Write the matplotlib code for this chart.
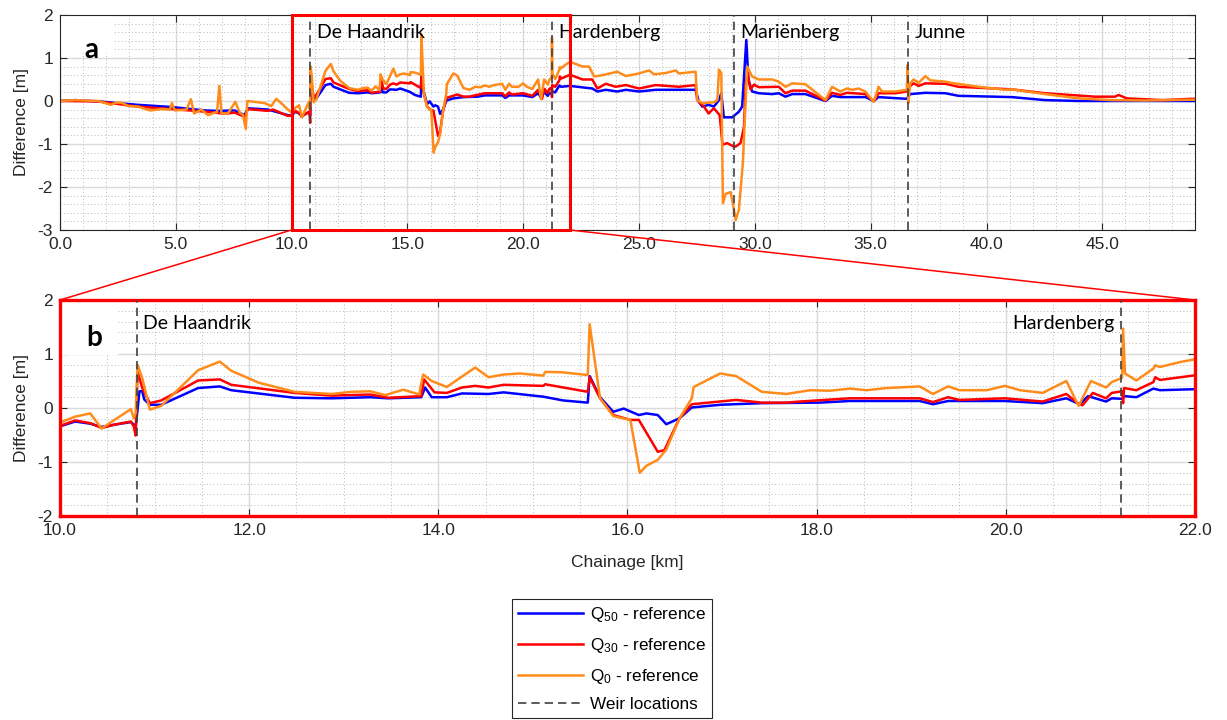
import matplotlib
matplotlib.use('Agg')
from matplotlib import pyplot as plt
from matplotlib.patches import Rectangle, ConnectionPatch
from matplotlib.lines import Line2D
from matplotlib.ticker import MultipleLocator, FormatStrFormatter

plt.rcParams['font.family'] = 'Liberation Sans'
plt.rcParams['axes.unicode_minus'] = False
plt.rcParams['mathtext.default'] = 'regular'

# chainage [km] / water level difference [m]
q50_km = [0.0, 0.65, 1.64, 3.37, 4.81, 6.24, 6.82, 7.54, 7.97, 8.11, 8.98, 9.84,
          10.0, 10.16, 10.32, 10.44, 10.57, 10.75, 10.8, 10.82, 10.84, 10.87, 10.89, 10.95,
          11.07, 11.46, 11.69, 11.81, 12.48, 12.87, 13.28, 13.47, 13.82, 13.86, 13.93, 14.09,
          14.25, 14.53, 14.69, 15.11, 15.32, 15.58, 15.6, 15.71, 15.85, 15.96, 16.12, 16.2,
          16.32, 16.41, 16.55, 16.68, 16.98, 17.42, 18.03, 18.35, 19.09, 19.23, 19.39, 19.99,
          20.39, 20.64, 20.78, 20.87, 21.06, 21.12, 21.23, 21.26, 21.38, 21.56, 21.63, 22.02,
          22.98, 23.2, 23.56, 24.06, 24.43, 25.0, 25.72, 27.44, 27.58, 27.73, 28.0, 28.23,
          28.45, 28.55, 28.66, 29.02, 29.31, 29.45, 29.63, 29.72, 29.88, 30.17, 30.75, 31.03,
          31.32, 31.61, 32.18, 33.05, 33.33, 33.69, 34.77, 35.13, 35.34, 36.56, 36.71, 37.36,
          38.22, 38.79, 41.09, 42.53, 43.97, 49.0]
q50_diff = [0.0, 0.02, -0.01, -0.09, -0.14, -0.22, -0.23, -0.22, -0.33, -0.17, -0.2, -0.33,
            -0.34, -0.25, -0.29, -0.35, -0.31, -0.26, -0.34, -0.03, 0.31, 0.31, 0.16, 0.06,
            0.06, 0.37, 0.40, 0.33, 0.19, 0.18, 0.20, 0.18, 0.20, 0.38, 0.20, 0.20,
            0.27, 0.26, 0.29, 0.21, 0.14, 0.10, 0.59, 0.20, -0.07, -0.01, -0.13, -0.10,
            -0.13, -0.30, -0.19, 0.01, 0.06, 0.09, 0.10, 0.13, 0.13, 0.07, 0.13, 0.13,
            0.09, 0.18, 0.07, 0.22, 0.12, 0.18, 0.17, 0.22, 0.20, 0.36, 0.33, 0.35,
            0.29, 0.22, 0.26, 0.22, 0.26, 0.22, 0.26, 0.26, -0.02, -0.13, -0.09, -0.13,
            0.02, 0.18, -0.38, -0.38, -0.25, -0.13, 1.42, 0.49, 0.22, 0.18, 0.16, 0.18,
            0.10, 0.16, 0.16, 0.0, 0.12, 0.09, 0.09, 0.0, 0.09, 0.05, 0.16, 0.19,
            0.18, 0.12, 0.09, 0.02, 0.0, 0.0]

q30_km = [0.0, 1.64, 3.37, 4.81, 5.85, 6.68, 6.97, 7.25, 7.54, 7.97, 8.11, 8.98, 9.2, 9.84,
          10.0, 10.16, 10.32, 10.44, 10.57, 10.75, 10.78, 10.8, 10.82, 10.87, 10.95, 11.07,
          11.46, 11.69, 11.81, 12.48, 12.87, 13.28, 13.47, 13.82, 13.85, 13.96, 14.09, 14.25,
          14.39, 14.53, 14.69, 15.11, 15.13, 15.58, 15.6, 15.71, 15.85, 16.03, 16.12, 16.32,
          16.39, 16.55, 16.68, 16.98, 17.15, 17.42, 17.68, 17.82, 18.35, 19.09, 19.23, 19.39,
          19.51, 19.99, 20.39, 20.64, 20.76, 20.81, 20.92, 21.06, 21.12, 21.23, 21.24, 21.25,
          21.38, 21.56, 21.58, 21.63, 22.02, 22.56, 22.98, 23.2, 23.56, 23.99, 24.43, 25.0,
          25.72, 26.72, 27.44, 27.51, 27.8, 28.0, 28.23, 28.48, 28.6, 28.8, 29.09, 29.17,
          29.38, 29.53, 29.6, 29.67, 29.81, 29.96, 30.17, 31.03, 31.32, 31.61, 32.18, 33.05,
          33.33, 33.69, 33.98, 34.77, 35.13, 35.34, 36.06, 36.56, 36.71, 36.85, 37.07, 37.36,
          38.22, 38.79, 41.09, 42.53, 44.68, 45.55, 45.7, 46.06, 47.6, 48.85, 49.0]
q30_diff = [0.0, -0.01, -0.13, -0.19, -0.23, -0.27, -0.29, -0.29, -0.27, -0.37, -0.19, -0.23, -0.2, -0.35,
            -0.33, -0.23, -0.28, -0.37, -0.31, -0.25, -0.34, -0.51, 0.67, 0.37, 0.09, 0.14,
            0.51, 0.53, 0.43, 0.28, 0.23, 0.25, 0.19, 0.22, 0.53, 0.29, 0.28, 0.38,
            0.41, 0.38, 0.43, 0.41, 0.44, 0.30, 0.57, 0.18, -0.13, -0.22, -0.22, -0.81,
            -0.78, -0.19, 0.07, 0.12, 0.15, 0.10, 0.10, 0.12, 0.18, 0.18, 0.11, 0.20,
            0.15, 0.18, 0.12, 0.26, 0.09, 0.05, 0.28, 0.18, 0.28, 0.31, 0.09, 0.37,
            0.33, 0.48, 0.57, 0.52, 0.61, 0.50, 0.50, 0.29, 0.40, 0.33, 0.37, 0.29,
            0.37, 0.33, 0.37, 0.02, -0.13, -0.29, -0.17, -0.33, -1.02, -0.98, -1.06, -1.06,
            -0.98, -0.6, 0.35, 0.69, 0.27, 0.38, 0.32, 0.33, 0.18, 0.24, 0.24, 0.01,
            0.19, 0.14, 0.19, 0.16, -0.01, 0.18, 0.18, 0.22, 0.35, 0.41, 0.35, 0.41,
            0.40, 0.33, 0.27, 0.18, 0.10, 0.10, 0.14, 0.06, 0.02, 0.05, 0.05]

q0_km = [0.0, 0.65, 1.64, 2.2, 2.4, 2.66, 2.95, 3.37, 3.88, 4.38, 4.74, 4.83, 4.96, 5.46,
         5.65, 5.79, 6.1, 6.39, 6.68, 6.78, 6.88, 6.97, 7.25, 7.57, 7.76, 7.9, 8.02, 8.09,
         8.84, 9.12, 9.34, 9.55, 9.84, 10.0, 10.16, 10.32, 10.44, 10.55, 10.75, 10.78, 10.8,
         10.82, 10.87, 10.95, 11.07, 11.46, 11.69, 11.81, 12.1, 12.48, 12.87, 13.08, 13.28,
         13.44, 13.63, 13.8, 13.81, 13.84, 13.93, 14.09, 14.39, 14.53, 14.69, 14.86, 15.11,
         15.13, 15.32, 15.58, 15.6, 15.71, 15.85, 16.03, 16.13, 16.2, 16.32, 16.41, 16.55,
         16.68, 16.7, 16.98, 17.15, 17.42, 17.68, 17.93, 18.14, 18.35, 18.53, 18.74, 19.09,
         19.23, 19.39, 19.51, 19.8, 19.99, 20.15, 20.39, 20.64, 20.77, 20.9, 21.06, 21.12,
         21.23, 21.24, 21.26, 21.38, 21.56, 21.58, 21.63, 21.84, 22.02, 22.56, 22.84, 23.06,
         23.42, 24.06, 24.43, 25.0, 25.43, 25.65, 26.15, 26.58, 26.72, 27.44, 27.51, 27.73,
         28.23, 28.38, 28.45, 28.55, 28.62, 28.74, 28.95, 29.05, 29.17, 29.31, 29.48, 29.57,
         29.67, 29.88, 30.17, 30.75, 31.03, 31.32, 31.61, 32.18, 33.05, 33.33, 33.69, 33.98,
         34.2, 34.48, 34.77, 35.13, 35.34, 35.49, 36.06, 36.56, 36.6, 36.62, 36.71, 36.85,
         37.07, 37.36, 37.57, 38.22, 38.5, 39.66, 40.8, 41.09, 42.53, 43.97, 45.4, 46.84,
         48.85, 49.0]
q0_diff = [0.0, 0.02, 0.0, -0.09, -0.04, -0.04, -0.12, -0.13, -0.22, -0.19, -0.2, -0.05, -0.22, -0.2,
           0.04, -0.29, -0.2, -0.33, -0.27, -0.26, 0.35, -0.29, -0.29, -0.02, -0.27, -0.33, -0.65, 0.0,
           -0.05, -0.12, 0.05, -0.05, -0.2, -0.27, -0.16, -0.1, -0.38, -0.25, -0.02, -0.19, -0.1,
           0.80, 0.55, -0.03, 0.04, 0.70, 0.86, 0.69, 0.47, 0.30, 0.26, 0.30, 0.31,
           0.24, 0.34, 0.25, 0.38, 0.62, 0.50, 0.39, 0.75, 0.57, 0.62, 0.64, 0.60,
           0.67, 0.66, 0.61, 1.55, 0.18, -0.15, -0.22, -1.20, -1.07, -0.96, -0.77, -0.19,
           0.18, 0.39, 0.64, 0.59, 0.30, 0.26, 0.33, 0.32, 0.36, 0.33, 0.37, 0.40,
           0.26, 0.40, 0.33, 0.33, 0.41, 0.33, 0.28, 0.50, 0.04, 0.50, 0.38, 0.48,
           0.56, 1.47, 0.64, 0.51, 0.73, 0.79, 0.76, 0.85, 0.91, 0.80, 0.80, 0.57,
           0.60, 0.68, 0.58, 0.64, 0.71, 0.62, 0.65, 0.71, 0.64, 0.68, 0.02, -0.05,
           -0.03, 0.02, 0.73, 0.65, -2.38, -2.16, -2.12, -2.38, -2.77, -2.53, -1.45, -0.37,
           0.80, 0.57, 0.50, 0.50, 0.45, 0.33, 0.41, 0.39, 0.02, 0.33, 0.22, 0.29,
           0.26, 0.29, 0.22, -0.02, 0.33, 0.22, 0.22, 0.26, 0.84, -0.05, 0.41, 0.50,
           0.42, 0.58, 0.48, 0.45, 0.42, 0.33, 0.26, 0.27, 0.16, 0.06, 0.02, 0.01,
           0.03, 0.03]

weir_km = [10.81, 21.22, 29.1, 36.6]
weir_names = ['De Haandrik', 'Hardenberg', 'Mariënberg', 'Junne']

c50, c30, c0 = '#0000ff', '#ff0000', '#ff8c1a'
weir_col = '#404040'
dash = (0, (5, 3))
lw = 1.8

fig = plt.figure(figsize=(12.27, 7.2), dpi=100)
ax_a = fig.add_axes([0.0489, 0.6806, 0.925, 0.2986])
ax_b = fig.add_axes([0.0489, 0.2833, 0.925, 0.300])


def style(ax, xmaj, xmin):
    ax.set_axisbelow(True)
    ax.xaxis.set_major_locator(MultipleLocator(xmaj))
    ax.xaxis.set_minor_locator(MultipleLocator(xmin))
    ax.yaxis.set_major_locator(MultipleLocator(1))
    ax.yaxis.set_minor_locator(MultipleLocator(0.2))
    ax.xaxis.set_major_formatter(FormatStrFormatter('%.1f'))
    ax.grid(which='major', color='#dadada', lw=1)
    ax.grid(which='minor', color='#b8b8b8', lw=0.7, ls=(0, (1, 2.5)))
    ax.tick_params(which='both', direction='in', top=True, right=True,
                   labelsize=12.5, colors='#262626', pad=5)
    ax.tick_params(which='major', length=5, width=0.8)
    ax.tick_params(which='minor', length=0)
    ax.set_ylabel('Difference [m]', fontsize=12.5, color='#262626')
    ax.yaxis.set_label_coords(-0.027, 0.5)


# panel a
style(ax_a, 5, 1)
ax_a.set_xlim(0, 49)
ax_a.set_ylim(-3, 2)
for s in ax_a.spines.values():
    s.set_color('#262626')
ax_a.add_patch(Rectangle((0, 0.823), 0.048, 0.177, transform=ax_a.transAxes,
                         fc='white', ec='none', zorder=1))
ax_a.plot(q50_km, q50_diff, color=c50, lw=lw, zorder=2)
ax_a.plot(q30_km, q30_diff, color=c30, lw=lw, zorder=2)
ax_a.plot(q0_km, q0_diff, color=c0, lw=lw, zorder=2)
for w, n in zip(weir_km, weir_names):
    ax_a.axvline(w, color=weir_col, ls=dash, lw=1.2, zorder=3)
    ax_a.text(w + 0.28, 1.6, n, fontsize=14, family='Lato', va='center', ha='left')
ax_a.text(0.0273, 0.837, 'a', transform=ax_a.transAxes, fontsize=20, fontweight='bold',
          family='Lato', ha='center', va='center')
ax_a.add_patch(Rectangle((10, -3), 12, 5, fill=False, ec='red', lw=2.2, zorder=5, clip_on=False))

# panel b
style(ax_b, 2, 0.5)
ax_b.set_xlim(10, 22)
ax_b.set_ylim(-2, 2)
for s in ax_b.spines.values():
    s.set_color('red')
    s.set_linewidth(2.4)
ax_b.add_patch(Rectangle((0, 0.745), 0.051, 0.255, transform=ax_b.transAxes,
                         fc='white', ec='none', zorder=1))
ax_b.plot(q50_km, q50_diff, color=c50, lw=lw, zorder=2)
ax_b.plot(q30_km, q30_diff, color=c30, lw=lw, zorder=2)
ax_b.plot(q0_km, q0_diff, color=c0, lw=lw, zorder=2)
ax_b.axvline(weir_km[0], color=weir_col, ls=dash, lw=1.2, zorder=3)
ax_b.axvline(weir_km[1], color=weir_col, ls=dash, lw=1.2, zorder=3)
ax_b.text(weir_km[0] + 0.07, 1.57, weir_names[0], fontsize=14, family='Lato', va='center', ha='left')
ax_b.text(weir_km[1] - 0.07, 1.57, weir_names[1], fontsize=14, family='Lato', va='center', ha='right')
ax_b.text(0.030, 0.824, 'b', transform=ax_b.transAxes, fontsize=20, fontweight='bold',
          family='Lato', ha='center', va='center')
ax_b.set_xlabel('Chainage [km]', fontsize=12.5, color='#262626')
ax_b.xaxis.set_label_coords(0.5, -0.18)

# zoom connector lines
for xk in (10, 22):
    con = ConnectionPatch(xyA=(xk, -3), coordsA=ax_a.transData, xyB=(xk, 2), coordsB=ax_b.transData,
                          color='red', lw=1.1)
    fig.add_artist(con)

handles = [Line2D([], [], color=c50, lw=1.8),
           Line2D([], [], color=c30, lw=1.8),
           Line2D([], [], color=c0, lw=1.8),
           Line2D([], [], color=weir_col, lw=1.2, ls=dash)]
labels = ['Q$_{50}$ - reference', 'Q$_{30}$ - reference', 'Q$_{0}$ - reference', 'Weir locations']
leg = fig.legend(handles, labels, loc='lower center', bbox_to_anchor=(0.4988, 0.0),
                 fontsize=12.3, handlelength=3.8, labelspacing=0.68, fancybox=False,
                 framealpha=1, edgecolor='#262626', borderpad=0.35, handletextpad=0.45,
                 borderaxespad=0.1)
leg.get_frame().set_linewidth(0.8)

fig.savefig('out.png', dpi=100)
